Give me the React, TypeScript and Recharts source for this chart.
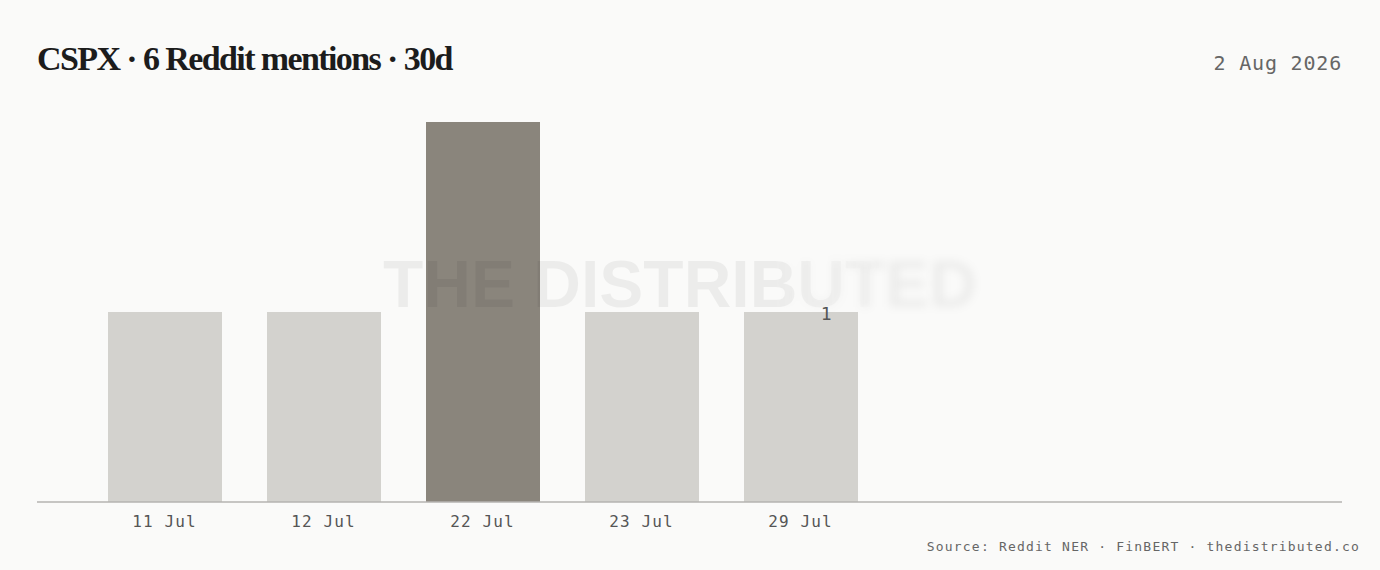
import React from "react";
import { BarChart, Bar, XAxis, YAxis, Cell, LabelList } from "recharts";

const categories = ["11 Jul", "12 Jul", "22 Jul", "23 Jul", "29 Jul"];
const mentions = [1, 1, 2, 1, 1];
const highlightIndex = 2;
const titleText = "CSPX · 6 Reddit mentions · 30d";
const dateText = "2 Aug 2026";
const sourceText = "Source: Reddit NER · FinBERT · thedistributed.co";
const watermarkText = "THE DISTRIBUTED";

const data = categories.map((c, i) => ({ day: c, value: mentions[i] }));

const BG = "#fafaf9";
const LIGHT = "#d3d2ce";
const DARK = "#8a857c";
const MONO = "'DejaVu Sans Mono', 'Liberation Mono', monospace";

const LastLabel = (props: any) => {
  const { x, y, width, index, value } = props;
  if (index !== data.length - 1) return null;
  return (
    <text
      x={x + width * 0.72}
      y={y + 1.5}
      textAnchor="middle"
      dominantBaseline="central"
      fill="#555"
      fontFamily={MONO}
      fontSize={18}
    >
      {value}
    </text>
  );
};

export default function App() {
  const wmBase: React.CSSProperties = {
    position: "absolute",
    left: 0,
    width: 1380,
    top: 244,
    textAlign: "center",
    fontFamily: "'Liberation Sans', Arial, sans-serif",
    fontWeight: 700,
    fontSize: 66,
    lineHeight: "80px",
    color: "rgba(0,0,0,0.055)",
    paddingRight: 20,
    boxSizing: "border-box",
    pointerEvents: "none",
    whiteSpace: "nowrap",
  };
  const sharpMask = "linear-gradient(to right, black 0%, black 56%, transparent 64%)";
  const blurMask = "linear-gradient(to right, transparent 0%, transparent 56%, black 64%)";
  return (
    <div
      style={{
        position: "fixed",
        left: 0,
        top: 0,
        width: 1380,
        height: 570,
        background: BG,
        overflow: "hidden",
      }}
    >
      <div
        style={{
          position: "absolute",
          left: 37,
          top: 37,
          fontFamily: "'Liberation Serif', 'DejaVu Serif', serif",
          fontWeight: 700,
          fontSize: 34,
          letterSpacing: -1.6,
          color: "#1c1c1c",
          lineHeight: "44px",
          whiteSpace: "nowrap",
        }}
      >
        {titleText}
      </div>
      <div
        style={{
          position: "absolute",
          right: 38,
          top: 50,
          fontFamily: MONO,
          fontSize: 20,
          letterSpacing: 0.8,
          color: "#666",
          lineHeight: "26px",
          whiteSpace: "nowrap",
        }}
      >
        {dateText}
      </div>
      <BarChart
        width={1380}
        height={570}
        data={data}
        margin={{ top: 122, left: 37, right: 38, bottom: 38 }}
      >
        <XAxis
          dataKey="day"
          height={30}
          padding={{ left: 48, right: 462 }}
          tickLine={false}
          tickSize={0}
          tickMargin={14}
          axisLine={{ stroke: "#b4b3b0", strokeWidth: 1.5 }}
          tick={{ fill: "#555", fontFamily: MONO, fontSize: 16, letterSpacing: 1.1 }}
        />
        <YAxis hide domain={[0, 2]} />
        <Bar dataKey="value" barSize={114} isAnimationActive={false}>
          {data.map((_, i) => (
            <Cell key={i} fill={i === highlightIndex ? DARK : LIGHT} />
          ))}
          <LabelList dataKey="value" content={<LastLabel />} />
        </Bar>
      </BarChart>
      <div
        style={{
          ...wmBase,
          WebkitMaskImage: sharpMask,
          maskImage: sharpMask,
        } as any}
      >
        {watermarkText}
      </div>
      <div
        style={{
          ...wmBase,
          filter: "blur(4px)",
          WebkitMaskImage: blurMask,
          maskImage: blurMask,
        } as any}
      >
        {watermarkText}
      </div>
      <div
        style={{
          position: "absolute",
          right: 20,
          top: 538,
          fontFamily: MONO,
          fontSize: 13,
          letterSpacing: 1.2,
          color: "#666",
          lineHeight: "18px",
          whiteSpace: "nowrap",
        }}
      >
        {sourceText}
      </div>
    </div>
  );
}
